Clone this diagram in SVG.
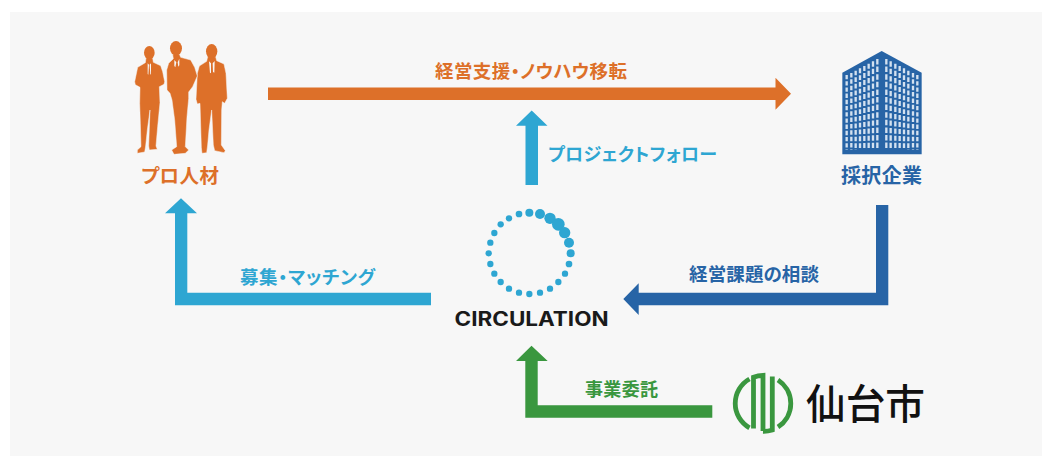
<svg xmlns="http://www.w3.org/2000/svg" width="1042" height="456" viewBox="0 0 1042 456">
<style>
.lb{font-family:"Noto Sans CJK JP","Noto Sans",sans-serif;font-weight:700;text-anchor:middle;font-feature-settings:"palt"}
.o{fill:#dd7029}.c{fill:#2ea6d2}.b{fill:#2764a6}.g{fill:#3a973f}
.tie{fill:#f7f7f7}
.win{stroke:#d3e1f0;stroke-width:7;fill:none}
.lg{fill:none;stroke:#3a973f;stroke-width:4.8}
</style>
<rect x="10" y="12" width="1032" height="444" fill="#f7f7f7"/>
<g id="connectors">
<polygon class="o" points="268,87.5 775.5,87.5 775.5,77.7 791,93.7 775.5,109.7 775.5,100 268,100"/>
<polygon class="c" points="525.5,185 525.5,125.7 516,125.7 531.7,110.5 547.5,125.7 538,125.7 538,185"/>
<polygon class="c" points="431,292.7 187.3,292.7 187.3,213.3 197,213.3 181,198.3 165,213.3 175,213.3 175,305.3 431,305.3"/>
<polygon class="b" points="876,205 888.3,205 888.3,305.3 638.7,305.3 638.7,315 623.3,299 638.7,283.3 638.7,292.7 876,292.7"/>
<polygon class="g" points="712.3,405.3 537.7,405.3 537.7,361 547.7,361 531.5,345.7 516,361 525.3,361 525.3,417.7 712.3,417.7"/>
<text class="lb o" x="531" y="77.8" font-size="18.5" textLength="192">経営支援・ノウハウ移転</text>
<text class="lb c" x="632.5" y="161" font-size="18" textLength="169">プロジェクトフォロー</text>
<text class="lb c" x="307.5" y="283.5" font-size="18.5" textLength="135">募集・マッチング</text>
<text class="lb b" x="754" y="281" font-size="18.5" textLength="130">経営課題の相談</text>
<text class="lb g" x="621.5" y="396" font-size="18" textLength="73">事業委託</text>
</g>
<g id="node-pro">
<g transform="translate(120 30) scale(.33333)">
<g id="p1">
<path class="o" stroke="#f7f7f7" stroke-width="1.5" d="M78 84L98 84L100 97L122 107L128 125L134 155L132 163L118 170L120 218L113 290L108 348L112 358L88 360L86 348L90 240L82 300L77 348L74 366L52 370L52 360L63 350L61 280L59 220L60 172L46 164L44 155L53 112L76 98Z"/>
<ellipse class="o" cx="88" cy="68" rx="16" ry="20"/>
<path class="tie" d="M83 100L87 104L85 134L83 132ZM93 100L89 104L91 134L93 132Z"/>
</g>
<g id="p3">
<path class="o" stroke="#f7f7f7" stroke-width="1.5" d="M263 80L287 80L290 92L312 102L318 130L322 205L314 220L307 215L305 240L304 345L316 362L312 368L284 362L280 345L275 240L267 300L263 345L260 368L246 370L244 352L240 220L232 222L228 208L232 130L238 108L260 94Z"/>
<ellipse class="o" cx="275" cy="64" rx="17" ry="22"/>
<path class="tie" d="M267 94L273 100L273 128L270 130ZM284 93L278 100L279 126L283 128Z"/>
</g>
<g id="p2">
<path class="o" stroke="#f7f7f7" stroke-width="1.5" d="M158 74L178 72L182 82L212 90L224 112L232 138L218 170L206 186L206 206L201 260L196 350L206 360L196 370L162 373L155 360L170 350L164 270L156 210L150 190L141 180L140 120L146 100L160 86Z"/>
<ellipse class="o" cx="168" cy="55" rx="18" ry="22"/>
<path class="tie" d="M163 90L169 97L166 112L163 108ZM178 86L173 97L175 110L178 106Z"/>
</g>
</g>
<text class="lb o" x="180" y="183" font-size="19.5" textLength="78">プロ人材</text>
</g>
<g id="node-company">
<g transform="translate(820 40) scale(.33333)">
<polygon class="b" points="185,33 305,98 305,343 67,343 67,98"/>
<path class="win" stroke-dasharray="13 5.6" d="M80 105V330"/>
<path class="win" stroke-dasharray="13.5 5.6" d="M94 99V330"/>
<path class="win" stroke-dasharray="14 5.8" d="M107 92V330"/>
<path class="win" stroke-dasharray="14.5 5.9" d="M120 85V330"/>
<path class="win" stroke-dasharray="15 6" d="M133 78V330"/>
<path class="win" stroke-dasharray="15.5 6.1" d="M146 71V330"/>
<path class="win" stroke-dasharray="16 6.2" d="M159 64V330"/>
<path class="win" stroke-dasharray="16.5 6.3" d="M172 57V330"/>
<path class="win" stroke-dasharray="16.5 6.3" d="M199 57V330"/>
<path class="win" stroke-dasharray="16 6.2" d="M212 64V330"/>
<path class="win" stroke-dasharray="15.5 6.1" d="M226 71V330"/>
<path class="win" stroke-dasharray="15 6" d="M239 78V330"/>
<path class="win" stroke-dasharray="14.5 5.9" d="M252 85V330"/>
<path class="win" stroke-dasharray="14 5.8" d="M265 92V330"/>
<path class="win" stroke-dasharray="13.5 5.6" d="M279 99V330"/>
<path class="win" stroke-dasharray="13 5.6" d="M292 105V330"/>
</g>
<text class="lb b" x="881.5" y="183" font-size="20" textLength="81">採択企業</text>
</g>
<g id="node-circulation">
<g class="c" transform="translate(440 195) scale(.33333)">
<circle cx="268" cy="53" r="12"/><circle cx="300" cy="57" r="15"/><circle cx="330" cy="70" r="17"/><circle cx="355" cy="88" r="19"/><circle cx="374" cy="113" r="17"/><circle cx="387" cy="143" r="15"/><circle cx="392" cy="175" r="12"/><circle cx="387" cy="207" r="10"/><circle cx="375" cy="236" r="9.5"/><circle cx="355" cy="261" r="9.5"/><circle cx="330" cy="281" r="9.5"/><circle cx="300" cy="293" r="9.5"/><circle cx="268" cy="297" r="9.5"/><circle cx="237" cy="293" r="9.5"/><circle cx="207" cy="281" r="9.5"/><circle cx="182" cy="261" r="9.5"/><circle cx="163" cy="236" r="9.5"/><circle cx="151" cy="207" r="9.5"/><circle cx="146" cy="175" r="9.5"/><circle cx="151" cy="143" r="9.5"/><circle cx="163" cy="114" r="9.5"/><circle cx="182" cy="88" r="9.5"/><circle cx="207" cy="70" r="9.5"/><circle cx="237" cy="57" r="10"/>
</g>
<text x="531.6" y="326.3" font-family="Inter,'Liberation Sans',sans-serif" font-weight="700" font-size="19.5" text-anchor="middle" fill="#1a1a1a" textLength="154" lengthAdjust="spacingAndGlyphs">CIRCULATION</text>
</g>
<g id="node-sendai">
<path class="lg" d="M749.5 379A28 28 0 0 0 749.5 427.8"/>
<path class="lg" d="M778 380A28 28 0 0 1 778 427"/>
<path class="lg" stroke-width="4" d="M753.5 428.5V377.2A28 28 0 0 1 763 375.3V431"/>
<path class="lg" d="M772.3 376.6V430A28 28 0 0 1 763 431.3"/>
<text x="865.5" y="419" font-family="'Noto Sans CJK JP','Noto Sans',sans-serif" font-weight="500" font-size="41" text-anchor="middle" fill="#111" textLength="119" lengthAdjust="spacingAndGlyphs">仙台市</text>
</g>
</svg>
